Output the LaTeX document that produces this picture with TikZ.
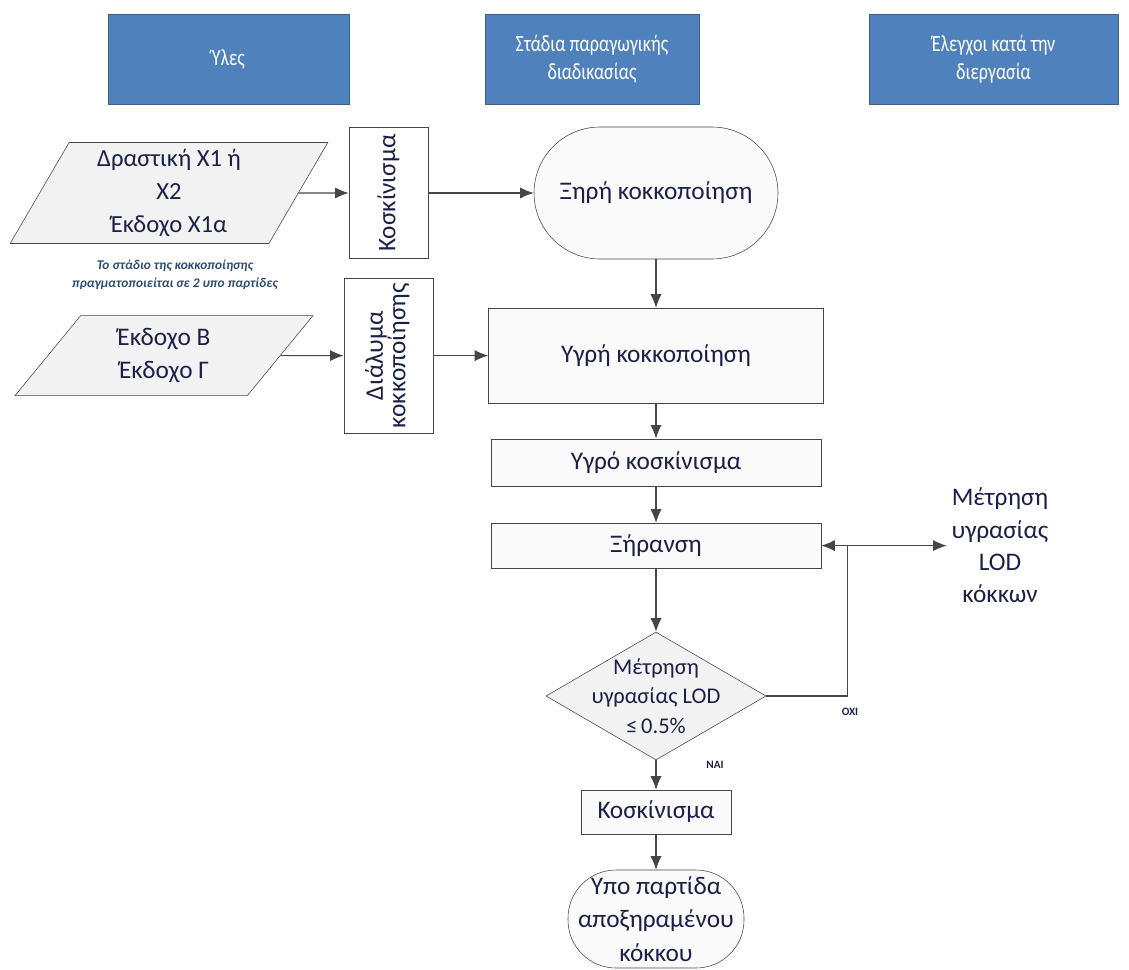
\documentclass[tikz,border=0pt]{standalone}
\usepackage{fontspec}
\setmainfont{Carlito}
\newfontfamily\hdrfont[FakeStretch=0.78]{Carlito}
\usetikzlibrary{arrows.meta, positioning, shapes.geometric}
\definecolor{hdrblue}{RGB}{79,129,189}
\definecolor{hdredge}{RGB}{58,96,142}
\definecolor{inknavy}{RGB}{28,32,72}
\definecolor{boxgray}{RGB}{242,242,242}
\definecolor{edgegray}{RGB}{70,70,70}

\tikzset{
  header/.style={draw=hdredge, fill=hdrblue, text=white, align=center,
    font=\hdrfont\fontsize{16.5}{20}\selectfont, minimum height=2.25cm},
  material/.style={trapezium, trapezium stretches=true, draw=edgegray, fill=boxgray,
    text=inknavy, align=center, font=\fontsize{17.5}{23.5}\selectfont},
  sidebox/.style={draw=edgegray, fill=white, text=inknavy,
    font=\fontsize{18}{20}\selectfont, inner sep=0pt},
  stagebox/.style={draw=edgegray, fill=boxgray!40, text=inknavy,
    font=\fontsize{18}{22}\selectfont},
  terminal/.style={draw=edgegray, fill=boxgray!40, text=inknavy, align=center,
    rectangle, font=\fontsize{18}{24}\selectfont},
  flow/.style={-{Latex[length=3.4mm,width=2.8mm]}, line width=0.8pt, edgegray},
  tag/.style={font=\fontsize{8}{10}\selectfont\bfseries, text=inknavy}
}

\begin{document}
\begin{tikzpicture}
  \useasboundingbox (0,0) rectangle (28.225,-24.25);

  % Column headers
  \node[header, minimum width=6.025cm] (hmat) at (5.71,-1.475) {Ύλες};
  \node[header, minimum width=5.35cm] (hstage) at (14.8,-1.475) {Στάδια παραγωγικής\\διαδικασίας};
  \node[header, minimum width=6.225cm] (hctrl) at (24.84,-1.475) {Έλεγχοι κατά την\\διεργασία};

  % Materials
  \node[material, trapezium left angle=65, trapezium right angle=115,
    minimum width=7.95cm, minimum height=2.525cm] (act) at (4.225,-4.825)
    {Δραστική X1 ή\\X2\\Έκδοχο X1α};
  \node[font=\fontsize{9.5}{12.5}\selectfont\bfseries\itshape, text=hdredge!80!black,
    align=center] (note) at (4.375,-6.875)
    {Το στάδιο της κοκκοποίησης\\πραγματοποιείται σε 2 υπο παρτίδες};
  \node[material, font=\fontsize{18}{24}\selectfont, trapezium left angle=58,
    trapezium right angle=122, minimum width=7.45cm, minimum height=2cm] (exc) at (4.1,-8.89)
    {Έκδοχο Β\\Έκδοχο Γ};

  % Side steps (upright text)
  \node[sidebox, minimum width=1.975cm, minimum height=3.275cm] (sift) at (9.71,-4.825)
    {\rotatebox{90}{Κοσκίνισμα}};
  \node[sidebox, minimum width=2.225cm, minimum height=3.875cm] (soln) at (9.71,-8.89)
    {\rotatebox{90}{\begin{tabular}{@{}c@{}}Διάλυμα\\[-4pt]κοκκοποίησης\end{tabular}}};

  % Process stages
  \node[terminal, rounded corners=1.65cm, minimum width=6.1cm, minimum height=3.3cm]
    (drygr) at (16.4,-4.825) {Ξηρή κοκκοποίηση};
  \node[stagebox, minimum width=8.375cm, minimum height=2.375cm] (wetgr) at (16.4,-8.89)
    {Υγρή κοκκοποίηση};
  \node[stagebox, minimum width=8.25cm, minimum height=1.175cm] (wetsift) at (16.4,-11.56)
    {Υγρό κοσκίνισμα};
  \node[stagebox, minimum width=8.25cm, minimum height=1.125cm] (drying) at (16.4,-13.64)
    {Ξήρανση};
  \node[diamond, draw=edgegray, fill=boxgray, minimum width=5.5cm, minimum height=3.2cm,
    inner sep=0pt, label={[text=inknavy, align=center, font=\fontsize{16}{21}\selectfont]center:
    Μέτρηση\\υγρασίας LOD\\≤\,0.5\%}] (lod) at (16.4,-17.4) {};
  \node[stagebox, minimum width=3.75cm, minimum height=1.1cm] (finsift) at (16.4,-20.3)
    {Κοσκίνισμα};
  \node[terminal, rounded corners=1.2cm, minimum width=4.4cm, minimum height=2.45cm,
    inner sep=1pt] (batch) at (16.4,-22.975) {Υπο παρτίδα\\αποξηραμένου\\κόκκου};

  % In-process control
  \node[text=inknavy, align=center, font=\fontsize{18}{23}\selectfont] (moist) at (25,-13.64)
    {Μέτρηση\\υγρασίας\\LOD\\κόκκων};

  % Connectors
  \draw[flow] (act.east) -- (sift.west);
  \draw[flow] (sift.east) -- (drygr.west);
  \draw[flow] (exc.east) -- (soln.west);
  \draw[flow] (soln.east) -- (wetgr.west);
  \draw[flow] (drygr.south) -- (wetgr.north);
  \draw[flow] (wetgr.south) -- (wetsift.north);
  \draw[flow] (wetsift.south) -- (drying.north);
  \draw[flow] (drying.south) -- (lod.north);
  \draw[flow] (lod.south) -- (finsift.north);
  \draw[flow] (finsift.south) -- (batch.north);

  % Loop back when LOD too high
  \coordinate[right=0.65cm of drying.east] (split);
  \draw[line width=0.8pt, edgegray] (lod.east) -| (split);
  \draw[flow] (split) -- (drying.east);
  \draw[flow] (split) -- (moist.west);
  \node[tag] (no) at (21.25,-17.8) {ΌΧΙ};
  \node[tag] (yes) at (17.875,-19.125) {ΝΑΙ};
\end{tikzpicture}
\end{document}
